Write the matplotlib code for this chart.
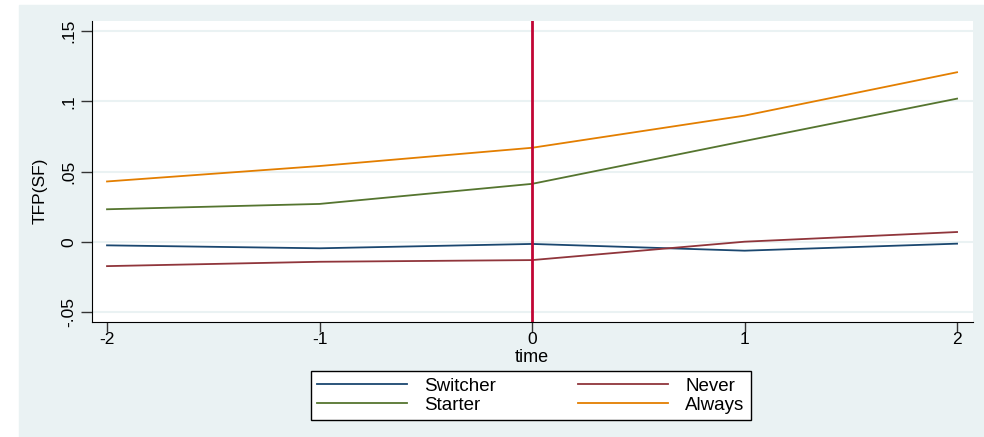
import matplotlib.pyplot as plt
from matplotlib.patches import Rectangle

plt.rcParams['font.family'] = ['Liberation Sans', 'DejaVu Sans']

time = [-2, -1, 0, 1, 2]
switcher = [-0.0026, -0.0047, -0.0016, -0.0064, -0.0014]
never = [-0.0174, -0.0143, -0.0131, 0.0000, 0.0069]
starter = [0.0231, 0.0269, 0.0412, 0.0717, 0.1019]
always = [0.0429, 0.0539, 0.0669, 0.0898, 0.1207]

yticks = [-0.05, 0, 0.05, 0.1, 0.15]
ylabels = ["-.05", "0", ".05", ".1", ".15"]

W, H = 984, 437
bg = "#eaf2f3"

f = plt.figure(figsize=(W / 100, H / 100), dpi=100)
f.patches.append(Rectangle((19 / W, 0), 1 - 19 / W, 1 - 5 / H,
                           transform=f.transFigure, color=bg, zorder=-5))

ax = f.add_axes([91.5 / W, 1 - 322 / H, (973 - 91.5) / W, (322 - 21) / H])
ax.set_facecolor("white")

ax.plot(time, switcher, c="#1a476f", lw=1.3, label="Switcher")
ax.plot(time, never, c="#90353b", lw=1.3, label="Never")
ax.plot(time, starter, c="#55752f", lw=1.3, label="Starter")
ax.plot(time, always, c="#e37e00", lw=1.3, label="Always")
ax.axvline(0, c="#c10534", lw=2)

ax.set_xlim(-2.073, 2.075)
ax.set_ylim(-0.0572, 0.1572)
ax.set_xticks(time)
ax.set_xticklabels([str(t) for t in time])
ax.set_yticks(yticks)
ax.set_yticklabels(ylabels, rotation=90, va="center")
ax.grid(True, axis="y", color=bg, lw=1.5)
ax.set_axisbelow(True)
ax.tick_params(width=1, color="#333333")
ax.tick_params(axis="y", length=8, pad=3, labelsize=12.5)
ax.tick_params(axis="x", length=7, pad=0, labelsize=12.5)
for s in ["top", "right"]:
    ax.spines[s].set_visible(False)
for s in ["left", "bottom"]:
    ax.spines[s].set_color("black")

f.text(532 / W, 1 - 349 / H, "time", ha="center", va="top", fontsize=13)
f.text(40 / W, 1 - 191 / H, "TFP(SF)", ha="center", va="center", rotation=90, fontsize=12.5)

h, l = ax.get_legend_handles_labels()
order = [0, 2, 1, 3]
leg = f.legend([h[i] for i in order], [l[i] for i in order], ncol=2,
               loc="center", mode="expand",
               bbox_to_anchor=(301.5 / W, 1 - 420 / H, (760.5 - 301.5) / W, 49 / H),
               fontsize=13.5, handlelength=4.8, handletextpad=0.9, columnspacing=2.0,
               labelspacing=0.1, borderpad=0.35, fancybox=False, frameon=True,
               edgecolor="black", framealpha=1)
leg.get_frame().set_linewidth(1)

f.savefig("out.png", dpi=100)
